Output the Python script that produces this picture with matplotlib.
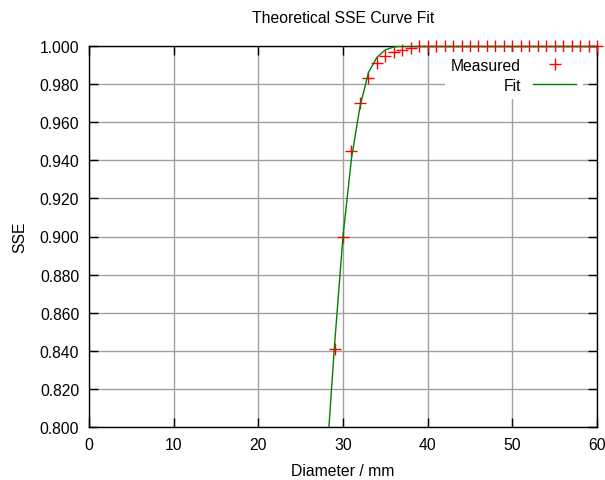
import matplotlib
matplotlib.use('Agg')
import matplotlib.pyplot as plt

plt.rcParams['font.family'] = ['Liberation Sans', 'DejaVu Sans']

# measured SSE values per diameter (mm)
measured_x = list(range(29, 61))
measured_y = [0.841, 0.900, 0.945, 0.970, 0.983, 0.991, 0.995, 0.997, 0.998, 0.999] + [1.000] * 22

# fitted curve
fit_x = list(range(28, 61))
fit_y = [0.778, 0.843, 0.900, 0.941, 0.968, 0.986, 0.994, 0.998, 0.9995, 1.000] + [1.000] * 23

x_ticks = [0, 10, 20, 30, 40, 50, 60]
y_ticks = [0.80, 0.82, 0.84, 0.86, 0.88, 0.90, 0.92, 0.94, 0.96, 0.98, 1.00]

fs = 11.3

fig = plt.figure(figsize=(6.05, 4.81), dpi=100)
ax = fig.add_axes([89 / 605, 53 / 481, 508 / 605, 381 / 481])

ax.plot(measured_x, measured_y, '+', color='#ff0000', markersize=8,
        markeredgewidth=1, label='Measured', clip_on=False, zorder=3)
ax.plot(fit_x, fit_y, '-', color='#008000', linewidth=1, label='Fit', zorder=4)

ax.set_xlim(0, 60)
ax.set_ylim(0.8, 1.0)
ax.set_xticks(x_ticks)
ax.set_yticks(y_ticks)
ax.set_yticklabels(['%.3f' % v for v in y_ticks])
ax.tick_params(direction='in', length=6.5, width=1, top=True, right=True,
               labelsize=fs, pad=7, color='black')
ax.grid(True, color='#a0a0a0', linewidth=1)
ax.set_axisbelow(True)
for s in ax.spines.values():
    s.set_linewidth(1)

ax.set_title('Theoretical SSE Curve Fit', fontsize=fs, pad=17)
ax.set_xlabel('Diameter / mm', fontsize=fs, labelpad=8)
ax.set_ylabel('SSE', fontsize=fs, labelpad=9)

leg = ax.legend(loc='upper right', markerfirst=False, frameon=True,
                fancybox=False, fontsize=fs, handlelength=2.75,
                bbox_to_anchor=(0.972, 0.985), borderaxespad=0,
                labelspacing=0.3)
leg.get_frame().set_edgecolor('none')
leg.get_frame().set_facecolor('white')
leg.get_frame().set_alpha(1)
for t in leg.get_texts():
    t.set_ha('right')
leg.set_zorder(5)

fig.savefig('out.png', dpi=100)
